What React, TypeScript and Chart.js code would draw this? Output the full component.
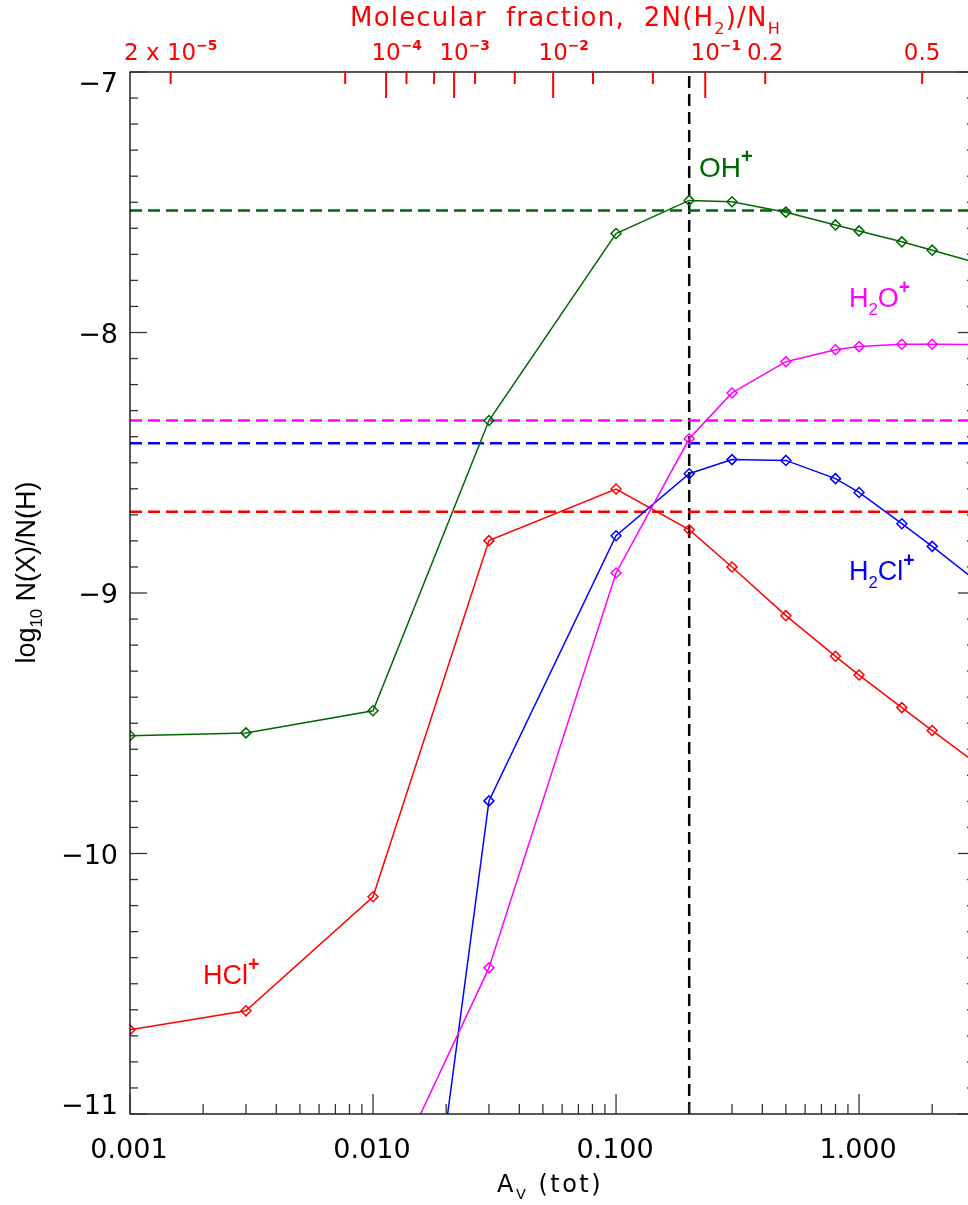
import React, { useEffect, useRef } from "react";
import { Chart, registerables } from "chart.js";

Chart.register(...registerables);

// ---- data ----
const avValues = [0.001, 0.003, 0.01, 0.03, 0.1, 0.2, 0.3, 0.5, 0.8, 1.0, 1.5, 2.0, 3.0];
const ohPlus = [-9.548, -9.537, -9.452, -8.338, -7.62, -7.493, -7.498, -7.538, -7.587, -7.61, -7.652, -7.684, -7.73];
const h2oPlus = [null, null, -11.39, -10.439, -8.923, -8.408, -8.232, -8.112, -8.066, -8.054, -8.045, -8.045, -8.046];
const h2clPlus = [null, null, -13.17, -9.798, -8.78, -8.542, -8.488, -8.491, -8.561, -8.614, -8.734, -8.821, -8.95];
const hclPlus = [-10.677, -10.604, -10.166, -8.799, -8.601, -8.757, -8.9, -9.087, -9.243, -9.315, -9.44, -9.528, -9.65];

// observed reference levels (horizontal dashed lines)
const ohRef = -7.532;
const h2oRef = -8.338;
const h2clRef = -8.425;
const hclRef = -8.688;
// vertical marker
const avMark = 0.2;

// axis ranges and ticks
const xMin = 0.001;
const xMax = 3;
const yMin = -11;
const yMax = -7;
const xTickValues = [0.001, 0.01, 0.1, 1];
const xTickLabels = ["0.001", "0.010", "0.100", "1.000"];
const yTickValues = [-11, -10, -9, -8, -7];
const yTickLabels = ["\u221211", "\u221210", "\u22129", "\u22128", "\u22127"];

// top axis: molecular fraction 2N(H2)/N_H, placed at the A_V where it is reached
const molFracValues = [2e-5, 5e-5, 1e-4, 2e-4, 5e-4, 1e-3, 2e-3, 5e-3, 1e-2, 2e-2, 5e-2, 1e-1, 0.2, 0.5];
const molFracAv = [0.00147, 0.00768, 0.01132, 0.01373, 0.01783, 0.02156, 0.0263, 0.0383, 0.0551, 0.0804, 0.1418, 0.2328, 0.411, 1.818];
const molFracLabels = ["2 x 10^{\u22125}", "", "10^{\u22124}", "", "", "10^{\u22123}", "", "", "10^{\u22122}", "", "", "10^{\u22121}", "0.2", "0.5"];

const COL_OH = "#006600";
const COL_H2O = "#ff00ff";
const COL_H2CL = "#0000ff";
const COL_HCL = "#ff0000";

// ---- rich text helpers ----
type Seg = { t: string; k?: "sup" | "sub" };
function parseRich(s: string): Seg[] {
  const out: Seg[] = [];
  let i = 0;
  let buf = "";
  while (i < s.length) {
    const c = s[i];
    if (c === "^" || c === "_") {
      if (buf) {
        out.push({ t: buf });
        buf = "";
      }
      let t = "";
      if (s[i + 1] === "{") {
        const j = s.indexOf("}", i + 2);
        t = s.slice(i + 2, j);
        i = j + 1;
      } else {
        t = s[i + 1];
        i += 2;
      }
      out.push({ t, k: c === "^" ? "sup" : "sub" });
    } else {
      buf += c;
      i++;
    }
  }
  if (buf) out.push({ t: buf });
  return out;
}

type RichOpts = {
  size: number;
  family: string;
  weight?: string;
  supWeight?: string;
  color: string;
  align?: "left" | "center" | "right";
  spacing?: number;
  supScale?: number;
  subScale?: number;
  supRise?: number;
  subDrop?: number;
  anchorFirst?: boolean;
};

function drawRich(ctx: CanvasRenderingContext2D, text: string, x: number, y: number, o: RichOpts) {
  const segs = parseRich(text);
  const fontFor = (k?: string) => {
    const sz = k === "sup" ? o.size * (o.supScale ?? 0.6) : k === "sub" ? o.size * (o.subScale ?? 0.62) : o.size;
    const w = k === "sup" ? o.supWeight || o.weight || "normal" : o.weight || "normal";
    return `${w} ${sz}px "${o.family}"`;
  };
  (ctx as any).letterSpacing = (o.spacing || 0) + "px";
  const widths = segs.map((sg) => {
    ctx.font = fontFor(sg.k);
    return ctx.measureText(sg.t).width;
  });
  const total = widths.reduce((a, b) => a + b, 0);
  const ref = o.anchorFirst ? widths[0] : total;
  let cx = o.align === "center" ? x - ref / 2 : o.align === "right" ? x - total : x;
  ctx.fillStyle = o.color;
  ctx.textBaseline = "alphabetic";
  ctx.textAlign = "left";
  segs.forEach((sg, idx) => {
    ctx.font = fontFor(sg.k);
    const dy = sg.k === "sup" ? -o.size * (o.supRise ?? 0.45) : sg.k === "sub" ? o.size * (o.subDrop ?? 0.28) : 0;
    ctx.fillText(sg.t, cx, y + dy);
    cx += widths[idx];
  });
  (ctx as any).letterSpacing = "0px";
}

const isPow10 = (v: number) => Math.abs(Math.log10(v) - Math.round(Math.log10(v))) < 1e-9;

const decorPlugin = {
  id: "decor",
  afterDraw(chart: any) {
    const ctx: CanvasRenderingContext2D = chart.ctx;
    const { left, right, top, bottom } = chart.chartArea;
    const xs = chart.scales.x;
    const ys = chart.scales.y;
    ctx.save();
    const line = (x1: number, y1: number, x2: number, y2: number) => {
      ctx.beginPath();
      ctx.moveTo(x1, y1);
      ctx.lineTo(x2, y2);
      ctx.stroke();
    };
    // frame
    ctx.strokeStyle = "#000";
    ctx.lineWidth = 1.3;
    ctx.strokeRect(left, top, right - left, bottom - top);

    // y ticks (both sides, inward)
    ctx.strokeStyle = "#333";
    ctx.lineWidth = 1.3;
    for (let i = 0; i <= Math.round((yMax - yMin) * 10); i++) {
      const v = yMin + i * 0.1;
      const py = ys.getPixelForValue(v);
      const len = i % 10 === 0 ? 17 : 8;
      line(left, py, left + len, py);
      line(right, py, right - len, py);
    }
    // x ticks bottom (inward)
    for (let d = Math.round(Math.log10(xMin)); d <= Math.floor(Math.log10(xMax)); d++) {
      for (let m = 1; m <= 9; m++) {
        const v = m * Math.pow(10, d);
        if (v < xMin - 1e-12 || v > xMax + 1e-12) continue;
        const px = xs.getPixelForValue(v);
        const len = m === 1 ? 20 : 10;
        line(px, bottom, px, bottom - len);
      }
    }
    // y tick labels
    yTickValues.forEach((v, i) => {
      const py = ys.getPixelForValue(v);
      const base = v === yMax ? py + 20 : v === yMin ? py : py + 10;
      drawRich(ctx, yTickLabels[i], 118, base, { size: 27, family: "DejaVu Sans", color: "#000", align: "right" });
    });
    // x tick labels
    xTickValues.forEach((v, i) => {
      const px = xs.getPixelForValue(v);
      drawRich(ctx, xTickLabels[i], px - 1, 1158, { size: 27, family: "DejaVu Sans", color: "#000", align: "center" });
    });
    // x axis title
    drawRich(ctx, "A_V (tot)", 497, 1192, {
      size: 24,
      family: "DejaVu Sans",
      color: "#000",
      align: "left",
      spacing: 2.5,
      subDrop: 0.3,
      subScale: 0.6,
    });
    // y axis title
    ctx.save();
    ctx.translate(35, 572.5);
    ctx.rotate(-Math.PI / 2);
    drawRich(ctx, "log_{10} N(X)/N(H)", 0, 0, { size: 27, family: "Liberation Sans", color: "#000", align: "center", subScale: 0.62, subDrop: 0.25 });
    ctx.restore();

    // top axis: molecular fraction (red)
    ctx.strokeStyle = COL_HCL;
    ctx.lineWidth = 2;
    molFracAv.forEach((av, i) => {
      const px = xs.getPixelForValue(av);
      const len = isPow10(molFracValues[i]) ? 26 : 12;
      line(px, top, px, top + len);
      const lab = molFracLabels[i];
      if (lab) {
        drawRich(ctx, lab, px, 60, {
          size: 23,
          family: "DejaVu Sans",
          weight: "normal",
          supWeight: "bold",
          color: COL_HCL,
          align: "center",
          anchorFirst: lab.startsWith("10"),
          supScale: 0.6,
          supRise: 0.44,
          spacing: 0,
        });
      }
    });
    drawRich(ctx, "Molecular  fraction,  2N(H_2)/N_H", 350, 26, {
      size: 26,
      family: "DejaVu Sans",
      color: COL_HCL,
      align: "left",
      spacing: 1.2,
      subScale: 0.62,
      subDrop: 0.3,
    });

    // curve labels
    const lab = (t: string, x: number, y: number, c: string, s: number) =>
      drawRich(ctx, t, x, y, {
        size: s,
        family: "Liberation Sans",
        color: c,
        align: "left",
        supWeight: "bold",
        supScale: 0.72,
        supRise: 0.5,
        subScale: 0.62,
        subDrop: 0.3,
      });
    lab("OH^+", 699, 177, COL_OH, 28);
    lab("H_2O^+", 849, 307, COL_H2O, 27);
    lab("H_2Cl^+", 849, 580, COL_H2CL, 27);
    lab("HCl^+", 203, 984, COL_HCL, 27);
    ctx.restore();
  },
};

function seriesData(vals: (number | null)[]) {
  const out: { x: number; y: number }[] = [];
  vals.forEach((v, i) => {
    if (v !== null) out.push({ x: avValues[i], y: v });
  });
  return out;
}

function hLine(y: number) {
  return [
    { x: xMin, y },
    { x: xMax, y },
  ];
}

export default function App() {
  const ref = useRef<HTMLCanvasElement | null>(null);
  useEffect(() => {
    if (!ref.current) return;
    const dashed = (data: any, color: string) => ({
      data,
      borderColor: color,
      borderWidth: 2.5,
      borderDash: [12, 6],
      pointRadius: 0,
      fill: false,
    });
    const solid = (data: any, color: string) => ({
      data,
      borderColor: color,
      borderWidth: 1.5,
      pointStyle: "rectRot",
      pointRadius: 5,
      pointBorderWidth: 1.5,
      pointBorderColor: color,
      pointBackgroundColor: "rgba(0,0,0,0)",
      fill: false,
      tension: 0,
    });
    const chart = new Chart(ref.current, {
      type: "line",
      data: {
        datasets: [
          solid(seriesData(ohPlus), COL_OH),
          solid(seriesData(h2oPlus), COL_H2O),
          solid(seriesData(h2clPlus), COL_H2CL),
          solid(seriesData(hclPlus), COL_HCL),
          dashed(hLine(ohRef), COL_OH),
          dashed(hLine(h2oRef), COL_H2O),
          dashed(hLine(h2clRef), COL_H2CL),
          dashed(hLine(hclRef), COL_HCL),
          dashed(
            [
              { x: avMark, y: yMin },
              { x: avMark, y: yMax },
            ],
            "#000"
          ),
        ] as any,
      },
      options: {
        responsive: false,
        animation: false,
        devicePixelRatio: 1,
        events: [],
        layout: { padding: { top: 72, right: 25, left: 0, bottom: 0 } },
        plugins: { legend: { display: false }, tooltip: { enabled: false } },
        scales: {
          x: {
            type: "logarithmic",
            min: xMin,
            max: xMax,
            position: "bottom",
            ticks: { display: false },
            grid: { display: false },
            border: { display: false },
            afterFit: (s: any) => {
              s.height = 91;
            },
          },
          y: {
            type: "linear",
            min: yMin,
            max: yMax,
            position: "left",
            ticks: { display: false },
            grid: { display: false },
            border: { display: false },
            afterFit: (s: any) => {
              s.width = 130;
            },
          },
        },
      } as any,
      plugins: [decorPlugin],
    });
    return () => chart.destroy();
  }, []);
  return (
    <div style={{ position: "fixed", left: 0, top: 0, width: 968, height: 1205, overflow: "hidden", background: "#fff" }}>
      <canvas ref={ref} width={1000} height={1205} style={{ display: "block" }} />
    </div>
  );
}
